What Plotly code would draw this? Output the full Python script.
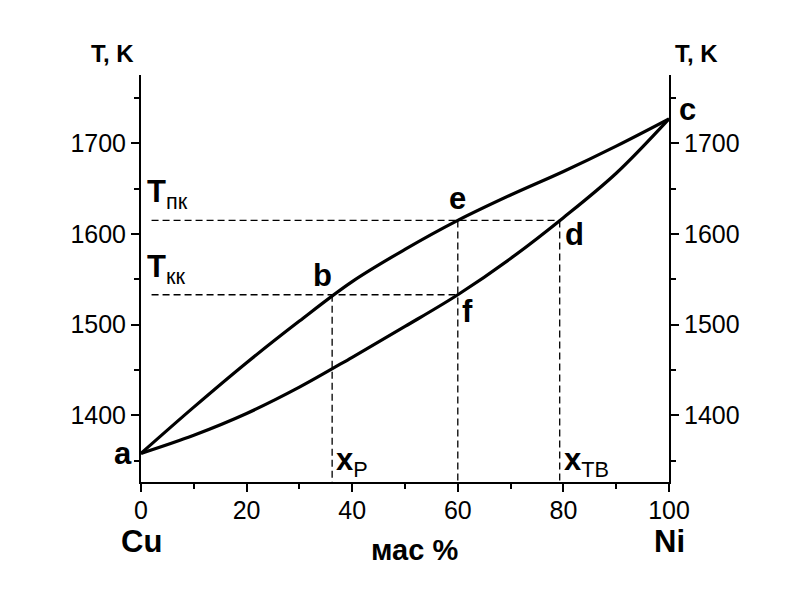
import plotly.graph_objects as go

# --- data ---
# composition, mass % Ni
comp = [0, 10, 20, 30, 40, 50, 60, 70, 80, 90, 100]
# liquidus (upper curve) and solidus (lower curve), K
liq_t = [1358, 1409, 1458, 1504, 1547.5, 1583, 1615, 1643, 1669, 1697, 1727]
sol_t = [1358, 1378, 1402, 1431, 1464, 1498, 1533, 1573, 1618, 1667, 1727]

# guide levels
t_pk = 1615   # T пк
t_kk = 1533   # T кк
x_p = 36.2    # x_P
x_e = 60      # e / f
x_tb = 79.3   # x_TB

y_range = [1326.4, 1775.4]
x_ticks = [0, 20, 40, 60, 80, 100]
y_ticks = [1400, 1500, 1600, 1700]

FONT = "Liberation Sans"
black = "#000000"

fig = go.Figure()

# dashed helpers
dash = dict(color=black, width=1.3, dash="7px,4px")
fig.add_trace(go.Scatter(x=[2, x_tb], y=[t_pk, t_pk], mode="lines", line=dash, hoverinfo="skip"))
fig.add_trace(go.Scatter(x=[2, x_e], y=[t_kk, t_kk], mode="lines", line=dash, hoverinfo="skip"))
fig.add_trace(go.Scatter(x=[x_p, x_p], y=[t_kk, y_range[0]], mode="lines", line=dash, hoverinfo="skip"))
fig.add_trace(go.Scatter(x=[x_e, x_e], y=[t_pk, y_range[0]], mode="lines", line=dash, hoverinfo="skip"))
fig.add_trace(go.Scatter(x=[x_tb, x_tb], y=[t_pk, y_range[0]], mode="lines", line=dash, hoverinfo="skip"))

# curves
fig.add_trace(go.Scatter(x=comp, y=liq_t, mode="lines",
                         line=dict(color=black, width=3.2, shape="spline", smoothing=1)))
fig.add_trace(go.Scatter(x=comp, y=sol_t, mode="lines", yaxis="y2",
                         line=dict(color=black, width=3.2, shape="spline", smoothing=1)))

big = dict(family=FONT, size=31, color=black)
ann = [
    dict(x=0, y=1358, text="<b>a</b>", xanchor="right", yanchor="middle", xshift=-7, yshift=0),
    dict(x=x_p, y=t_kk, text="<b>b</b>", xanchor="right", yanchor="bottom", xshift=2, yshift=0),
    dict(x=100, y=1728, text="<b>c</b>", xanchor="left", yanchor="middle", xshift=8, yshift=8),
    dict(x=x_tb, y=t_pk, text="<b>d</b>", xanchor="left", yanchor="top", xshift=3, yshift=5),
    dict(x=x_e, y=t_pk, text="<b>e</b>", xanchor="center", yanchor="bottom", xshift=0, yshift=2),
    dict(x=x_e, y=t_kk, text="<b>f</b>", xanchor="left", yanchor="top", xshift=2, yshift=3),
    dict(x=0, y=t_pk, text="<b>T</b><sub>пк</sub>", xanchor="left", yanchor="bottom", xshift=4, yshift=4),
    dict(x=0, y=t_kk, text="<b>T</b><sub>кк</sub>", xanchor="left", yanchor="bottom", xshift=4, yshift=4),
    dict(x=x_p, y=y_range[0], text="<b>x</b><sub>P</sub>", xanchor="left", yanchor="bottom", xshift=2, yshift=-2),
    dict(x=x_tb, y=y_range[0], text="<b>x</b><sub>TB</sub>", xanchor="left", yanchor="bottom", xshift=2, yshift=-2),
]
for a in ann:
    fig.add_annotation(showarrow=False, font=big, **a)

fig.add_annotation(x=0, y=-0.145, yref="paper", text="<b>Cu</b>", showarrow=False, font=big,
                   xanchor="center", yanchor="middle")
fig.add_annotation(x=100, y=-0.145, yref="paper", text="<b>Ni</b>", showarrow=False, font=big,
                   xanchor="center", yanchor="middle")
fig.add_annotation(x=51.8, y=-0.168, yref="paper", text="<b>мас %</b>", showarrow=False,
                   font=dict(family=FONT, size=29, color=black), xanchor="center", yanchor="middle")
fig.add_annotation(x=-0.054, y=1.054, xref="paper", yref="paper", text="<b>T, K</b>", showarrow=False,
                   font=dict(family=FONT, size=24, color=black), xanchor="center", yanchor="middle")
fig.add_annotation(x=1.0525, y=1.054, xref="paper", yref="paper", text="<b>T, K</b>", showarrow=False,
                   font=dict(family=FONT, size=24, color=black), xanchor="center", yanchor="middle")

axis_common = dict(showline=True, linecolor=black, linewidth=2, showgrid=False, zeroline=False,
                   ticks="outside", ticklen=8, tickwidth=1.5, tickcolor=black,
                   tickfont=dict(family=FONT, size=25, color=black))
minor_x = dict(dtick=10, ticks="outside", ticklen=5, tickwidth=1.5, tickcolor=black)
minor_y = dict(dtick=50, tick0=0, ticks="outside", ticklen=5, tickwidth=1.5, tickcolor=black)

# the page body adds 8px around the figure, so the figure is 8px smaller
fig.update_layout(
    width=803, height=608,
    margin=dict(l=133, r=142, t=67, b=134),
    paper_bgcolor="white", plot_bgcolor="white",
    showlegend=False,
    xaxis=dict(range=[0, 100], tickvals=x_ticks, minor=minor_x, ticklabelstandoff=-3, **axis_common),
    yaxis=dict(range=y_range, tickvals=y_ticks, minor=minor_y, **axis_common),
    yaxis2=dict(range=y_range, tickvals=y_ticks, overlaying="y", side="right",
                minor=minor_y, **axis_common),
)

fig.write_html("out.html")
